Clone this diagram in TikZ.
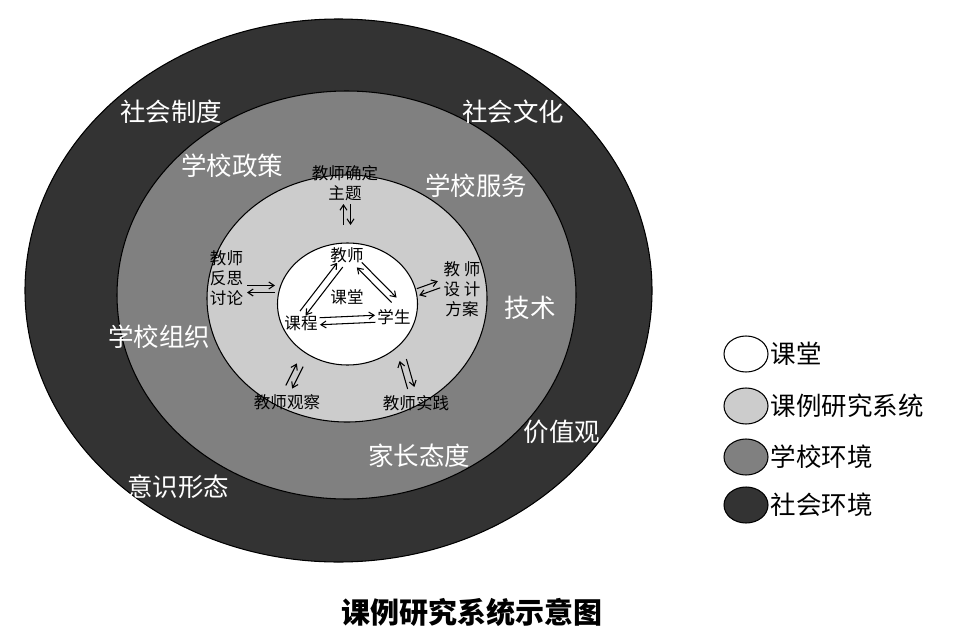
\documentclass[tikz,border=0pt]{standalone}
\usepackage{fontspec}
\setmainfont{Noto Sans CJK SC}
\usetikzlibrary{calc,shapes.geometric,arrows.meta}

\definecolor{darkring}{gray}{0.2}
\definecolor{midring}{gray}{0.5}
\definecolor{lightring}{gray}{0.8}

% two arrows side by side, one each way
\newcommand{\twoway}[2]{%
  \draw[->] ($#1!2pt!90:#2$) -- ($#2!2pt!-90:#1$);
  \draw[->] ($#2!2pt!90:#1$) -- ($#1!2pt!-90:#2$);}

\begin{document}
\begin{tikzpicture}[
    ring/.style={draw=black,line width=0.6pt},
    envlabel/.style={text=white,font=\fontsize{14.5}{16}\selectfont},
    inlabel/.style={font=\fontsize{9.4}{11.3}\selectfont,align=center,inner sep=1pt},
    legendkey/.style={ellipse,draw=black,line width=0.6pt,minimum width=0.88cm,minimum height=0.72cm,inner sep=0pt},
    legendtext/.style={font=\fontsize{14.5}{16}\selectfont,inner sep=1pt},
    >={Straight Barb[length=3pt,width=4pt]},line width=0.6pt]
    \useasboundingbox (0,0) rectangle (19.44,12.72);

    % Rings, outside in
    \draw[ring,fill=darkring] (6.77,6.91) ellipse [x radius=6.27,y radius=5.43];
    \draw[ring,fill=midring] (6.93,6.82) ellipse [x radius=4.59,y radius=4.08];
    \draw[ring,fill=lightring] (6.94,6.75) ellipse [x radius=2.80,y radius=2.47];
    \draw[ring,fill=white] (6.95,6.64) ellipse [x radius=1.40,y radius=1.22];

    % Society
    \node[envlabel] (system) at (3.42,10.48) {社会制度};
    \node[envlabel] (culture) at (10.26,10.48) {社会文化};
    \node[envlabel] (tech) at (10.60,6.56) {技术};
    \node[envlabel] (values) at (11.24,4.08) {价值观};
    \node[envlabel] (ideology) at (3.56,2.98) {意识形态};

    % School
    \node[envlabel] (policy) at (4.64,9.40) {学校政策};
    \node[envlabel] (service) at (9.52,9.00) {学校服务};
    \node[envlabel] (organise) at (3.18,5.98) {学校组织};
    \node[envlabel] (parents) at (8.38,3.60) {家长态度};

    % Lesson study cycle
    \node[inlabel] (topic) at (6.90,9.06) {教师确定\\主题};
    \node[inlabel] (design) at (9.24,6.94) {教 师\\设 计\\方案};
    \node[inlabel] (practice) at (8.32,4.66) {教师实践};
    \node[inlabel] (observe) at (5.74,4.68) {教师观察};
    \node[inlabel] (reflect) at (4.53,7.16) {教师\\反思\\讨论};

    \coordinate (topic-a) at (6.94,8.64); \coordinate (topic-b) at (6.94,8.22);
    \coordinate (design-a) at (8.78,7.03); \coordinate (design-b) at (8.36,6.88);
    \coordinate (practice-a) at (8.22,4.96); \coordinate (practice-b) at (8.06,5.52);
    \coordinate (observe-a) at (5.78,4.98); \coordinate (observe-b) at (6.00,5.42);
    \coordinate (reflect-a) at (4.94,6.94); \coordinate (reflect-b) at (5.50,6.94);
    \twoway{(topic-a)}{(topic-b)}
    \twoway{(design-a)}{(design-b)}
    \twoway{(practice-a)}{(practice-b)}
    \twoway{(observe-a)}{(observe-b)}
    \twoway{(reflect-a)}{(reflect-b)}

    % Classroom
    \node[inlabel] (teacher) at (6.94,7.62) {教师};
    \node[inlabel] (room) at (6.94,6.78) {课堂};
    \node[inlabel] (course) at (6.02,6.26) {课程};
    \node[inlabel] (student) at (7.88,6.38) {学生};
    \twoway{([xshift=1pt]course.north)}{([xshift=-4pt]teacher.south)}
    \twoway{([xshift=7pt]teacher.south)}{([yshift=4pt]student.north)}
    \twoway{([yshift=1pt]course.east)}{([yshift=-1pt]student.west)}

    % Legend
    \foreach \y/\c/\t [count=\i] in {5.64/white/课堂,4.60/lightring/课例研究系统,3.58/midring/学校环境,2.62/darkring/社会环境} {
      \node[legendkey,fill=\c] (key\i) at (14.92,\y) {};
      \node[legendtext,anchor=west] (keytext\i) at (key\i.east) {\t};
    }

    \node[font=\fontsize{16.5}{18}\selectfont\bfseries] (caption) at (9.44,0.48) {课例研究系统示意图};
\end{tikzpicture}
\end{document}
